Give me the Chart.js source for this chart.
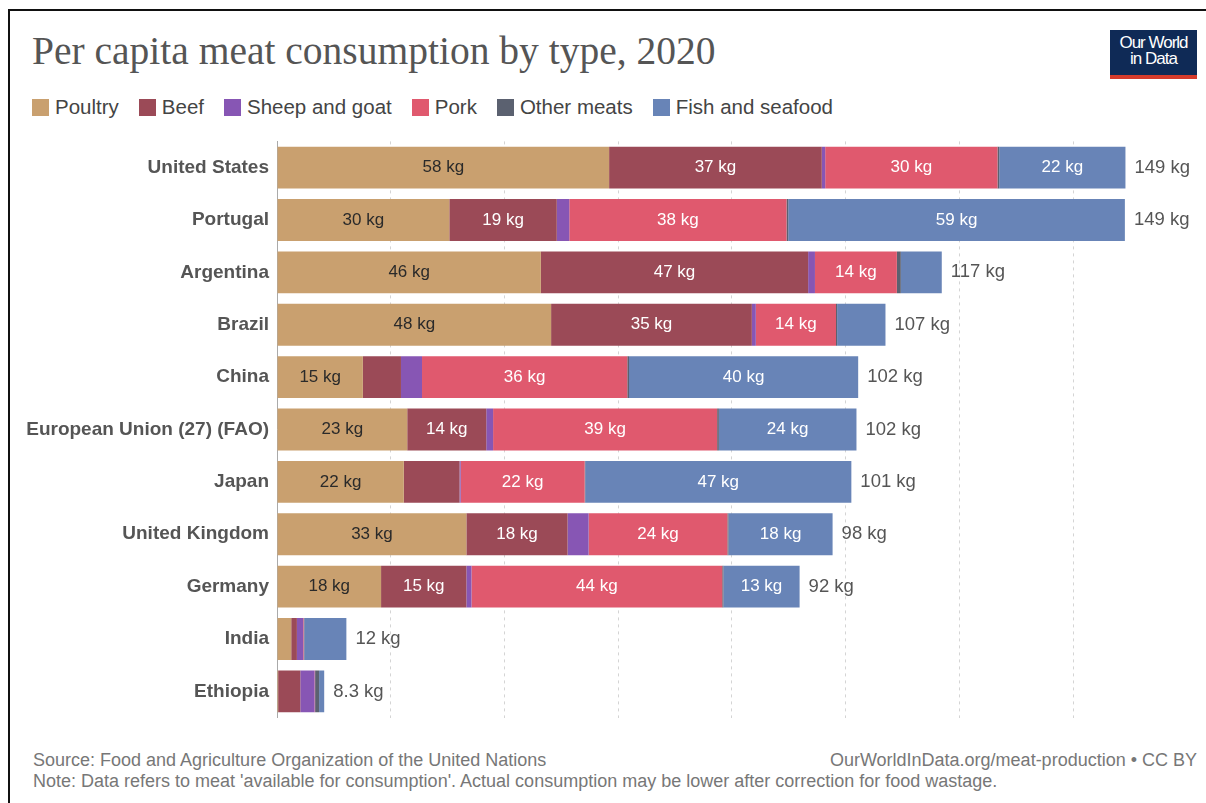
<!DOCTYPE html>
<html>
<head>
<meta charset="utf-8">
<script src="https://cdn.jsdelivr.net/npm/chart.js@4"></script>
<style>
  body { margin: 0; background: #fff; font-family: "Liberation Sans", Arial, sans-serif; }
  #frame { position: absolute; left: 8px; top: 9px; width: 1300px; height: 900px;
           border-left: 2px solid #111; border-top: 2px solid #111; }
  #title { position: absolute; left: 32px; top: 28px; font-family: "Liberation Serif", Georgia, serif;
           font-size: 39.5px; color: #555; }
  #logo { position: absolute; left: 1110px; top: 30px; width: 87px; height: 40px; background: #0f2a56;
          border-bottom: 4px solid #d63b2b; color: #fff; text-align: center; font-size: 17px;
          line-height: 16px; padding-top: 5px; letter-spacing: -1px; }
  #legend { position: absolute; left: 32px; top: 95px; font-size: 20.5px; color: #444; display: flex; }
  #legend span.item { display: flex; align-items: center; margin-right: 20px; }
  #legend span.sw { width: 17px; height: 17px; margin-right: 6px; display: inline-block; }
  #wrap { position: absolute; left: 20px; top: 121.5px; width: 1180px; height: 615px; }
  .foot { position: absolute; font-size: 18px; color: #777; }
</style>
</head>
<body>
<div id="frame"></div>
<div id="title">Per capita meat consumption by type, 2020</div>
<div id="logo">Our World<br>in Data</div>
<div id="legend"></div>
<div id="wrap"><canvas id="meatChart"></canvas></div>
<div class="foot" style="left:33px; top:750px;">Source: Food and Agriculture Organization of the United Nations</div>
<div class="foot" style="right:9px; top:750px;">OurWorldInData.org/meat-production • CC BY</div>
<div class="foot" style="left:33px; top:771px;">Note: Data refers to meat 'available for consumption'. Actual consumption may be lower after correction for food wastage.</div>

<script>
// kg per person per year
const countries = ['United States', 'Portugal', 'Argentina', 'Brazil', 'China',
  'European Union (27) (FAO)', 'Japan', 'United Kingdom', 'Germany', 'India', 'Ethiopia'];

const poultry = [58.4, 30.3, 46.4, 48.2, 15.1, 22.9, 22.3, 33.3, 18.3, 2.5, 0.2];
const beef    = [37.4, 18.9, 47.0, 35.3,  6.7, 13.9,  9.8, 17.8, 15.0, 1.0, 3.9];
const sheep   = [ 0.6,  2.2,  1.2,  0.7,  3.7,  1.2,  0.2,  3.7,  0.9, 1.1, 2.5];
const pork    = [30.3, 38.2, 14.4, 14.1, 36.1, 39.4, 21.8, 24.4, 44.1, 0.1, 0.1];
const other   = [ 0.3,  0.3,  0.7,  0.2,  0.3,  0.3,  0.1,  0.2,  0.2, 0.1, 0.7];
const fish    = [22.2, 59.2,  7.2,  8.5, 40.3, 24.2, 46.8, 18.3, 13.4, 7.4, 0.9];

const seriesNames = ['Poultry', 'Beef', 'Sheep and goat', 'Pork', 'Other meats', 'Fish and seafood'];
const seriesData = [poultry, beef, sheep, pork, other, fish];
const seriesColors = ['#c9a06f', '#9b4a57', '#8756b4', '#e0596e', '#5b6170', '#6884b7'];

// legend
const legend = document.getElementById('legend');
seriesNames.forEach((name, i) => {
  const item = document.createElement('span');
  item.className = 'item';
  item.innerHTML = '<span class="sw" style="background:' + seriesColors[i] + '"></span>' + name;
  legend.appendChild(item);
});

function fmt(v) {
  return (v < 10 ? v.toFixed(1) : Math.round(v).toString()) + ' kg';
}

// segment values inside bars, totals after them
const barLabels = {
  id: 'barLabels',
  afterDatasetsDraw(chart) {
    const ctx = chart.ctx;
    ctx.save();
    ctx.textBaseline = 'middle';
    ctx.font = '17px "Liberation Sans", Arial, sans-serif';
    ctx.textAlign = 'center';
    chart.data.datasets.forEach((ds, di) => {
      chart.getDatasetMeta(di).data.forEach((bar, i) => {
        const v = ds.data[i];
        if (v < 11) return;
        ctx.fillStyle = di === 0 ? '#2a2a2a' : '#ffffff';
        ctx.fillText(fmt(v), (bar.x + bar.base) / 2, bar.y);
      });
    });
    ctx.font = '18.5px "Liberation Sans", Arial, sans-serif';
    ctx.textAlign = 'left';
    ctx.fillStyle = '#555';
    const last = chart.getDatasetMeta(chart.data.datasets.length - 1).data;
    countries.forEach((c, i) => {
      const total = seriesData.reduce((s, arr) => s + arr[i], 0);
      ctx.fillText(fmt(total), last[i].x + 9, last[i].y);
    });
    ctx.restore();
  }
};

new Chart(document.getElementById('meatChart'), {
  type: 'bar',
  data: {
    labels: countries,
    datasets: seriesNames.map((name, i) => ({
      label: name,
      data: seriesData[i],
      backgroundColor: seriesColors[i],
      borderWidth: 0,
      barPercentage: 0.8,
      categoryPercentage: 1
    }))
  },
  options: {
    indexAxis: 'y',
    responsive: true,
    maintainAspectRatio: false,
    animation: false,
    layout: { padding: { top: 4.5, bottom: 0, right: 70 } },
    plugins: { legend: { display: false }, tooltip: { enabled: false } },
    scales: {
      x: {
        stacked: true,
        min: 0,
        max: 150,
        ticks: { display: false, stepSize: 20 },
        grid: {
          drawTicks: false,
          color: c => (c.tick.value > 0 && c.tick.value % 20 === 0) ? '#d4d4d4' : 'rgba(0,0,0,0)'
        },
        border: { display: false, dash: [3, 4] }
      },
      y: {
        stacked: true,
        grid: { display: false, drawTicks: false },
        border: { display: true, color: '#aaa' },
        ticks: {
          color: '#555',
          padding: 8,
          font: { family: '"Liberation Sans", Arial, sans-serif', size: 19, weight: 'bold' }
        },
        afterFit: s => { s.width = 257; }
      }
    }
  },
  plugins: [barLabels]
});
</script>
</body>
</html>
